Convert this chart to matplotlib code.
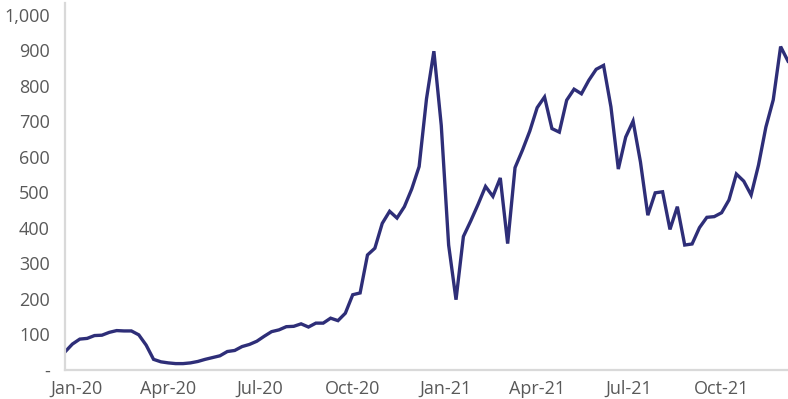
import matplotlib
matplotlib.use("Agg")
import matplotlib.pyplot as plt
import matplotlib.dates as mdates
import matplotlib.ticker as mticker
import pandas as pd

# series values (roughly weekly, Dec-2019 .. Dec-2021)
values = [51, 73, 87, 89, 97, 98, 106, 111, 110, 110,
          99, 70, 30, 23, 20, 18, 18, 20, 24, 30,
          35, 40, 52, 55, 66, 72, 81, 95, 108, 113,
          122, 123, 130, 121, 132, 132, 146, 139, 160, 212,
          217, 324, 343, 413, 447, 428, 460, 510, 573, 764,
          898, 689, 352, 198, 376, 420, 467, 517, 489, 541,
          356, 570, 619, 673, 739, 769, 680, 670, 760, 791,
          778, 816, 847, 858, 741, 566, 656, 701, 586, 436,
          499, 502, 396, 460, 352, 355, 401, 430, 432, 443,
          479, 552, 532, 493, 577, 684, 761, 911, 870]
first_date = "2019-12-21"
last_date = "2021-12-06"
dates = pd.date_range(first_date, last_date, periods=len(values))

y_ticks = [0, 100, 200, 300, 400, 500, 600, 700, 800, 900, 1000]

line_color = "#2E2E78"
text_color = "#595959"
spine_color = "#D9D9D9"

plt.rcParams["font.family"] = ["Open Sans", "DejaVu Sans"]

fig = plt.figure(figsize=(7.88, 3.99), dpi=100)
ax = fig.add_axes([0.0825, 0.0727, 0.9175, 0.92])

ax.plot(dates, values, color=line_color, linewidth=2.4, solid_joinstyle="miter")

ax.set_xlim(dates[0], dates[-1])
ax.set_ylim(0, 1034)

ax.set_yticks(y_ticks)
ax.yaxis.set_major_formatter(mticker.FuncFormatter(
    lambda v, p: "-" if v == 0 else f"{int(v):,}"))
ax.xaxis.set_major_locator(mdates.MonthLocator(bymonth=[1, 4, 7, 10]))
ax.xaxis.set_major_formatter(mdates.DateFormatter("%b-%y"))

ax.tick_params(axis="both", length=0, labelsize=13, labelcolor=text_color)
ax.tick_params(axis="y", pad=11)
ax.tick_params(axis="x", pad=7)

for side in ["top", "right"]:
    ax.spines[side].set_visible(False)
for side in ["left", "bottom"]:
    ax.spines[side].set_color(spine_color)
    ax.spines[side].set_linewidth(1.6)

fig.savefig("out.png", dpi=100)
plt.close()
